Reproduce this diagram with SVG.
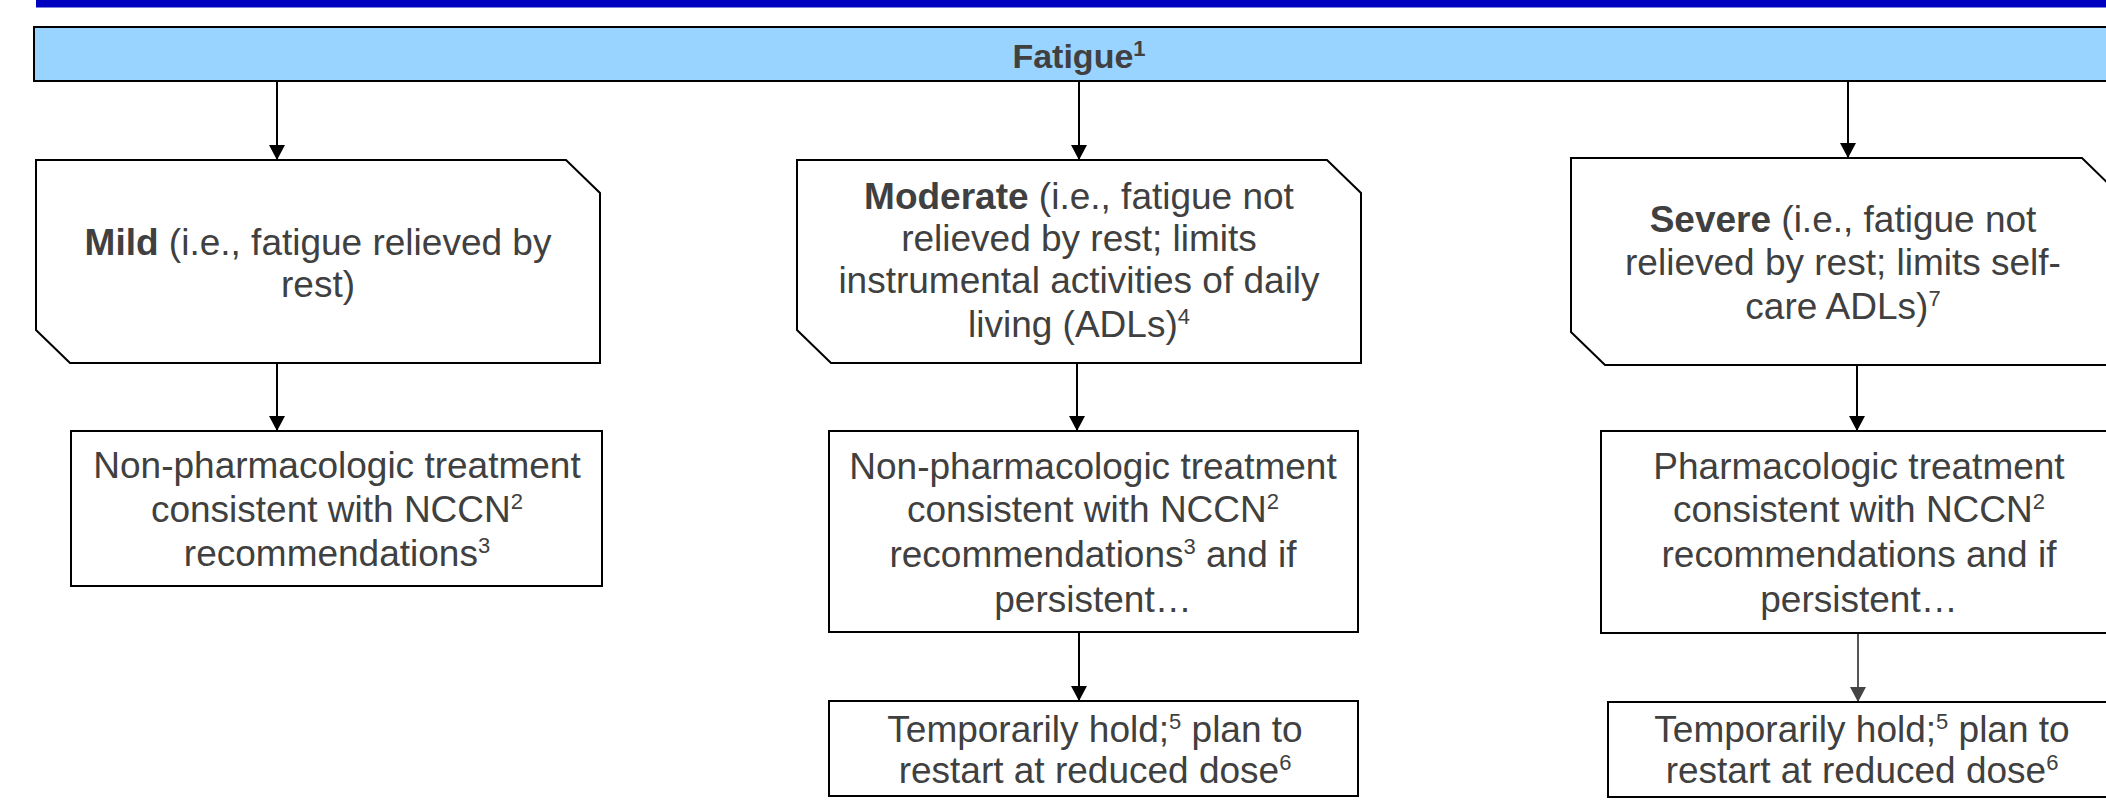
<svg xmlns="http://www.w3.org/2000/svg" width="2106" height="800" viewBox="0 0 2106 800">
<defs>
<style>
.box{fill:#ffffff;stroke:#000000;stroke-width:2}
.t{font-family:"Liberation Sans",Arial,sans-serif;font-size:37px;fill:#404040;text-anchor:middle}
.title{font-family:"Liberation Sans",Arial,sans-serif;font-size:34px;font-weight:bold;fill:#404040;text-anchor:middle}
.b{font-weight:bold}
.s{font-size:22px}
.conn{stroke:#000000;stroke-width:2;fill:none}
.conn-gray{stroke:#555555;stroke-width:2;fill:none}
</style>
<marker id="ah" markerUnits="userSpaceOnUse" markerWidth="16" markerHeight="16" refX="15" refY="8" orient="auto" viewBox="0 0 16 16">
<path d="M0,0 L15,8 L0,16 z" fill="#000000"/>
</marker>
<marker id="ahg" markerUnits="userSpaceOnUse" markerWidth="16" markerHeight="16" refX="15" refY="8" orient="auto" viewBox="0 0 16 16">
<path d="M0,0 L15,8 L0,16 z" fill="#444444"/>
</marker>
</defs>
<rect width="2106" height="800" fill="#ffffff"/>
<rect x="36" y="0" width="2070" height="7.5" fill="#0000C0"/>

<g id="fatigue">
<rect x="34" y="27" width="2100" height="54" fill="#99D3FF" stroke="#000000" stroke-width="2"/>
<text class="title" x="1079" y="68">Fatigue<tspan class="s" font-size="22" dy="-12">1</tspan></text>
</g>

<g id="connectors">
<line class="conn" x1="277" y1="82" x2="277" y2="160" marker-end="url(#ah)"/>
<line class="conn" x1="1079" y1="82" x2="1079" y2="160" marker-end="url(#ah)"/>
<line class="conn" x1="1848" y1="82" x2="1848" y2="158" marker-end="url(#ah)"/>
<line class="conn" x1="277" y1="364" x2="277" y2="431" marker-end="url(#ah)"/>
<line class="conn" x1="1077" y1="364" x2="1077" y2="431" marker-end="url(#ah)"/>
<line class="conn" x1="1857" y1="366" x2="1857" y2="431" marker-end="url(#ah)"/>
<line class="conn" x1="1079" y1="633" x2="1079" y2="701" marker-end="url(#ah)"/>
<line class="conn-gray" x1="1858" y1="634" x2="1858" y2="702" marker-end="url(#ahg)"/>
</g>

<g id="mild">
<polygon class="box" points="36,160 566,160 600,193 600,363 70,363 36,330"/>
<text class="t" x="318" y="255"><tspan class="b">Mild</tspan> (i.e., fatigue relieved by</text>
<text class="t" x="318" y="297">rest)</text>
</g>

<g id="moderate">
<polygon class="box" points="797,160 1327,160 1361,193 1361,363 831,363 797,330"/>
<text class="t" x="1079" y="209"><tspan class="b">Moderate</tspan> (i.e., fatigue not</text>
<text class="t" x="1079" y="251">relieved by rest; limits</text>
<text class="t" x="1079" y="293">instrumental activities of daily</text>
<text class="t" x="1079" y="337">living (ADLs)<tspan class="s" dy="-13">4</tspan></text>
</g>

<g id="severe">
<polygon class="box" points="1571,158 2082,158 2116,191 2116,365 1605,365 1571,332"/>
<text class="t" x="1843" y="232"><tspan class="b">Severe</tspan> (i.e., fatigue not</text>
<text class="t" x="1843" y="275">relieved by rest; limits self-</text>
<text class="t" x="1843" y="319">care ADLs)<tspan class="s" dy="-13">7</tspan></text>
</g>

<g id="mild-treatment">
<rect class="box" x="71" y="431" width="531" height="155"/>
<text class="t" x="337" y="478">Non-pharmacologic treatment</text>
<text class="t" x="337" y="522">consistent with NCCN<tspan class="s" dy="-13">2</tspan></text>
<text class="t" x="337" y="566">recommendations<tspan class="s" dy="-13">3</tspan></text>
</g>

<g id="moderate-treatment">
<rect class="box" x="829" y="431" width="529" height="201"/>
<text class="t" x="1093" y="479">Non-pharmacologic treatment</text>
<text class="t" x="1093" y="522">consistent with NCCN<tspan class="s" dy="-13">2</tspan></text>
<text class="t" x="1093" y="567">recommendations<tspan class="s" dy="-13">3</tspan><tspan dy="13"> and if</tspan></text>
<text class="t" x="1093" y="612">persistent…</text>
</g>

<g id="moderate-hold">
<rect class="box" x="829" y="701" width="529" height="95"/>
<text class="t" x="1095" y="742">Temporarily hold;<tspan class="s" dy="-13">5</tspan><tspan dy="13"> plan to</tspan></text>
<text class="t" x="1095" y="783">restart at reduced dose<tspan class="s" dy="-13">6</tspan></text>
</g>

<g id="severe-treatment">
<rect class="box" x="1601" y="431" width="520" height="202"/>
<text class="t" x="1859" y="479">Pharmacologic treatment</text>
<text class="t" x="1859" y="522">consistent with NCCN<tspan class="s" dy="-13">2</tspan></text>
<text class="t" x="1859" y="567">recommendations and if</text>
<text class="t" x="1859" y="612">persistent…</text>
</g>

<g id="severe-hold">
<rect class="box" x="1608" y="702" width="515" height="95"/>
<text class="t" x="1862" y="742">Temporarily hold;<tspan class="s" dy="-13">5</tspan><tspan dy="13"> plan to</tspan></text>
<text class="t" x="1862" y="783">restart at reduced dose<tspan class="s" dy="-13">6</tspan></text>
</g>
</svg>
